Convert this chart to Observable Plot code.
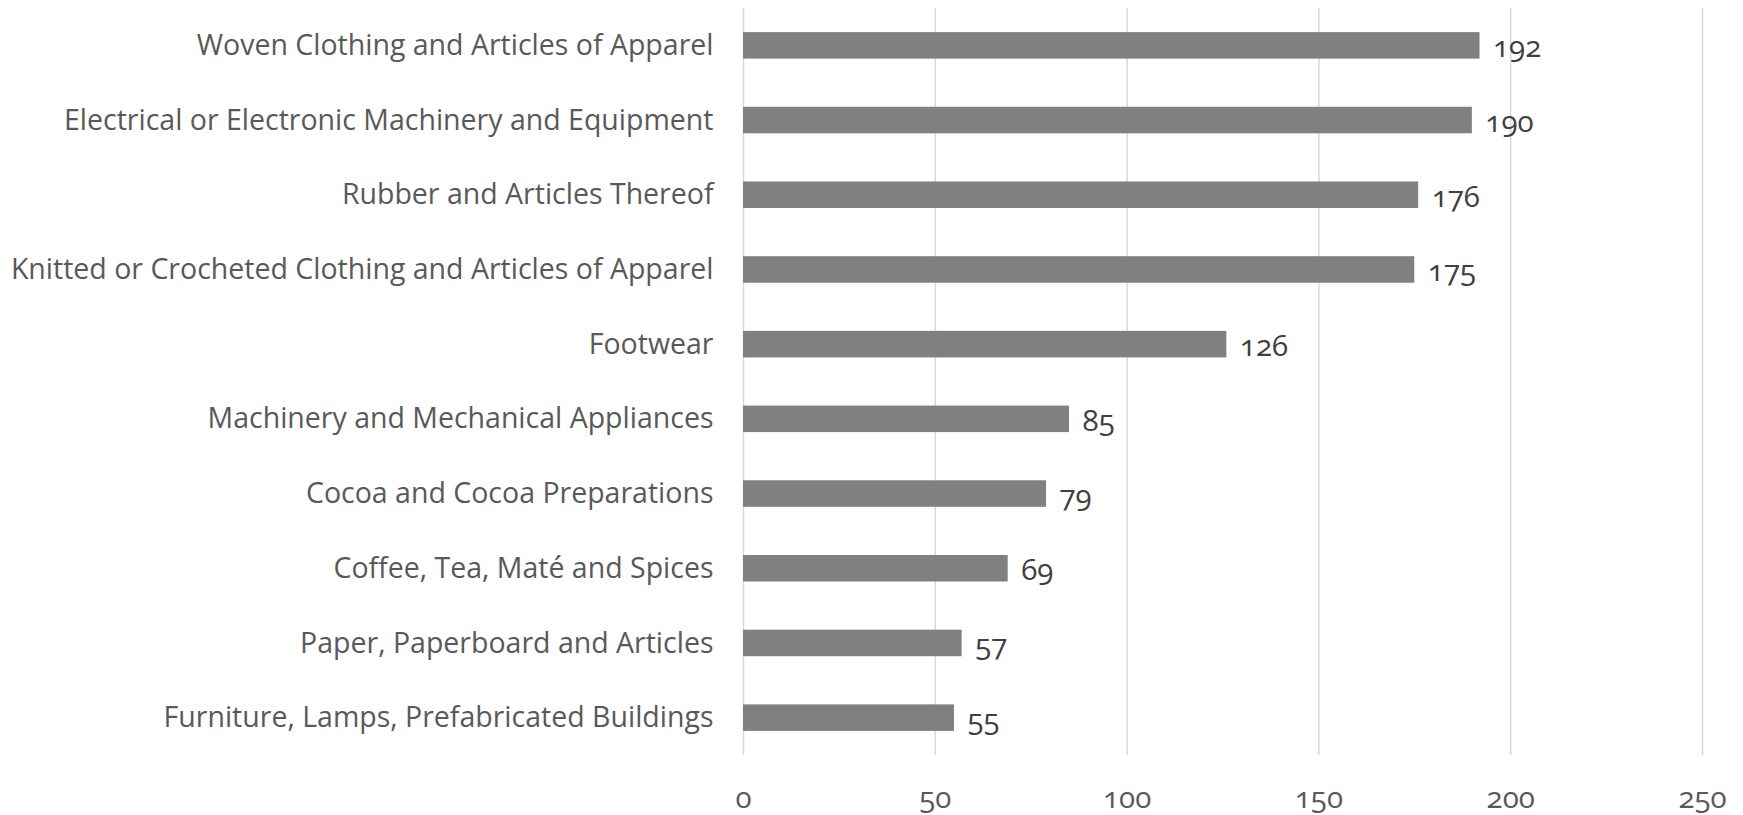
<!DOCTYPE html>
<html>
<head>
<meta charset="utf-8">
<script src="https://cdn.jsdelivr.net/npm/d3@7"></script>
<script src="https://cdn.jsdelivr.net/npm/@observablehq/plot@0.6"></script>
<style>
  html, body { margin: 0; padding: 0; background: #fff; }
  #chart svg { display: block; font-family: "Open Sans", sans-serif; }
</style>
</head>
<body>
<div id="chart"></div>
<script>
const categories = [
  "Woven Clothing and Articles of Apparel",
  "Electrical or Electronic Machinery and Equipment",
  "Rubber and Articles Thereof",
  "Knitted or Crocheted Clothing and Articles of Apparel",
  "Footwear",
  "Machinery and Mechanical Appliances",
  "Cocoa and Cocoa Preparations",
  "Coffee, Tea, Maté and Spices",
  "Paper, Paperboard and Articles",
  "Furniture, Lamps, Prefabricated Buildings"
];
const values = [192, 190, 176, 175, 126, 85, 79, 69, 57, 55];
const xTicks = [0, 50, 100, 150, 200, 250];

const data = categories.map((c, i) => ({category: c, value: values[i]}));

const chart = Plot.plot({
  width: 1743,
  height: 815,
  marginLeft: 743,
  marginRight: 41,
  marginTop: 8,
  marginBottom: 60,
  style: {fontFamily: "'Open Sans', sans-serif", fontSize: "27px", background: "#fff", overflow: "visible"},
  x: {domain: [0, 250], ticks: xTicks, label: null},
  y: {domain: categories, paddingInner: 0.645, paddingOuter: 0.3225, round: false, label: null},
  marks: [
    Plot.gridX(xTicks, {stroke: "#d9d9d9", strokeOpacity: 1, strokeWidth: 1.5}),
    Plot.barX(data, {x: "value", y: "category", fill: "#808080"}),
    Plot.text(data, {
      x: "value", y: "category", text: d => String(d.value),
      textAnchor: "start", dx: 13, dy: 2, fill: "#404040", fontSize: 29.5
    }),
    Plot.axisX({ticks: xTicks, tickSize: 0, tickPadding: 32, fontSize: 29.5, color: "#595959", label: null}),
    Plot.axisY({tickSize: 0, tickPadding: 30, fontSize: 28.5, color: "#595959", dy: 0, label: null})
  ]
});
chart.querySelectorAll("text").forEach(t => t.style.fontVariantNumeric = "oldstyle-nums");
document.getElementById("chart").appendChild(chart);
</script>
</body>
</html>
